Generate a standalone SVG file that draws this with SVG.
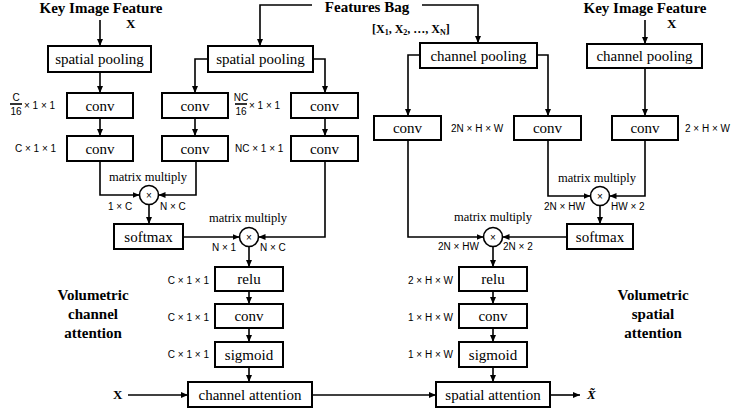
<svg xmlns="http://www.w3.org/2000/svg" width="732" height="413" viewBox="0 0 732 413">
<defs>
<marker id="ah" markerUnits="userSpaceOnUse" markerWidth="7" markerHeight="6" refX="7" refY="3" orient="auto">
<path d="M0,0 L7,3 L0,6 z" fill="#000"/>
</marker>
<style>
.box{fill:#fff;stroke:#000;stroke-width:2}
.bt{font-family:"Liberation Serif",serif;font-size:15px;text-anchor:middle;dominant-baseline:central}
.ttl{font-family:"Liberation Serif",serif;font-size:15px;font-weight:bold;text-anchor:middle}
.mm{font-family:"Liberation Serif",serif;font-size:12.5px;text-anchor:middle}
.lb{font-family:"Liberation Sans",sans-serif;font-size:10px}
.lbe{font-family:"Liberation Sans",sans-serif;font-size:10px;text-anchor:end}
.ln{fill:none;stroke:#000;stroke-width:1.6}
.ar{fill:none;stroke:#000;stroke-width:1.6;marker-end:url(#ah)}
.cir{fill:#fff;stroke:#000;stroke-width:1.6}
.x{font-family:"Liberation Sans",sans-serif;font-size:10px;text-anchor:middle;dominant-baseline:central}
</style>
</defs>
<rect width="732" height="413" fill="#fff"/>

<g id="titles">
<text class="ttl" x="101" y="13">Key Image Feature</text>
<text x="126" y="28" font-family="Liberation Serif,serif" font-size="13" font-weight="bold">X</text>
<text class="ttl" x="367" y="12">Features Bag</text>
<text x="372" y="33" font-family="Liberation Serif,serif" font-size="12" font-weight="bold">[X<tspan font-size="8" dy="2">1</tspan><tspan dy="-2">, X</tspan><tspan font-size="8" dy="2">2</tspan><tspan dy="-2">, …, X</tspan><tspan font-size="8" dy="2">N</tspan><tspan dy="-2">]</tspan></text>
<text class="ttl" x="645" y="13">Key Image Feature</text>
<text x="667" y="28" font-family="Liberation Serif,serif" font-size="13" font-weight="bold">X</text>
<text class="ttl" x="93" y="300">Volumetric</text>
<text class="ttl" x="93" y="319">channel</text>
<text class="ttl" x="93" y="338">attention</text>
<text class="ttl" x="653" y="300">Volumetric</text>
<text class="ttl" x="653" y="319">spatial</text>
<text class="ttl" x="653" y="338">attention</text>
</g>

<g id="connectors">
<path class="ar" d="M100,20 V46"/>
<path class="ar" d="M645,20 V44"/>
<path class="ar" d="M312,5 H260 V46"/>
<path class="ar" d="M422,5 H478 V43"/>
<path class="ar" d="M100,72 V93"/>
<path class="ar" d="M100,118 V136"/>
<path class="ar" d="M208,59 H195 V93"/>
<path class="ar" d="M313,59 H325 V93"/>
<path class="ar" d="M195,118 V136"/>
<path class="ar" d="M325,118 V136"/>
<path class="ar" d="M420,55 H408 V116"/>
<path class="ar" d="M537,55 H548 V116"/>
<path class="ar" d="M645,68 V116"/>
<path class="ar" d="M100,161 V195 H139.5"/>
<path class="ar" d="M196,161 V195 H158.5"/>
<path class="ar" d="M149,204.5 V224"/>
<path class="ar" d="M183,237 H239.5"/>
<path class="ar" d="M325,161 V237 H258.5"/>
<path class="ar" d="M249,246.5 V267"/>
<path class="ar" d="M548,140 V196 H590.5"/>
<path class="ar" d="M645,140 V196 H609.5"/>
<path class="ar" d="M600,205.5 V224"/>
<path class="ar" d="M408,140 V237 H483.5"/>
<path class="ar" d="M567,237 H502.5"/>
<path class="ar" d="M493,246.5 V267"/>
<path class="ar" d="M249,291 V304"/>
<path class="ar" d="M249,328 V342"/>
<path class="ar" d="M249,367 V382"/>
<path class="ar" d="M493,291 V304"/>
<path class="ar" d="M493,328 V342"/>
<path class="ar" d="M493,367 V382"/>
<path class="ar" d="M128,395 H188"/>
<path class="ar" d="M312,395 H436"/>
<path class="ar" d="M550,395 H580"/>
</g>

<g id="sp1"><rect class="box" x="48" y="46" width="103" height="26"/><text class="bt" x="99.5" y="59">spatial pooling</text></g>
<g id="sp2"><rect class="box" x="208" y="46" width="105" height="26"/><text class="bt" x="260.5" y="59">spatial pooling</text></g>
<g id="cp1"><rect class="box" x="420" y="43" width="117" height="25"/><text class="bt" x="478.5" y="55.5">channel pooling</text></g>
<g id="cp2"><rect class="box" x="587" y="44" width="115" height="24"/><text class="bt" x="644.5" y="56">channel pooling</text></g>

<g id="conv1a"><rect class="box" x="67" y="93" width="66" height="25"/><text class="bt" x="100" y="105.5">conv</text></g>
<g id="conv1b"><rect class="box" x="67" y="136" width="66" height="25"/><text class="bt" x="100" y="148.5">conv</text></g>
<g id="conv2a"><rect class="box" x="162" y="93" width="66" height="25"/><text class="bt" x="195" y="105.5">conv</text></g>
<g id="conv2b"><rect class="box" x="162" y="136" width="66" height="25"/><text class="bt" x="195" y="148.5">conv</text></g>
<g id="conv3a"><rect class="box" x="291" y="93" width="67" height="25"/><text class="bt" x="324.5" y="105.5">conv</text></g>
<g id="conv3b"><rect class="box" x="291" y="136" width="67" height="25"/><text class="bt" x="324.5" y="148.5">conv</text></g>
<g id="conv4"><rect class="box" x="374" y="116" width="67" height="24"/><text class="bt" x="407.5" y="128">conv</text></g>
<g id="conv5"><rect class="box" x="514" y="116" width="67" height="24"/><text class="bt" x="547.5" y="128">conv</text></g>
<g id="conv6"><rect class="box" x="612" y="116" width="66" height="24"/><text class="bt" x="645" y="128">conv</text></g>

<g id="mul1"><circle class="cir" cx="149" cy="195" r="9.5"/><text class="x" x="149" y="195">×</text></g>
<g id="mul2"><circle class="cir" cx="249" cy="237" r="9.5"/><text class="x" x="249" y="237">×</text></g>
<g id="mul3"><circle class="cir" cx="600" cy="196" r="9.5"/><text class="x" x="600" y="196">×</text></g>
<g id="mul4"><circle class="cir" cx="493" cy="237" r="9.5"/><text class="x" x="493" y="237">×</text></g>

<g id="sm1"><rect class="box" x="114" y="224" width="69" height="25"/><text class="bt" x="148.5" y="236.5">softmax</text></g>
<g id="sm2"><rect class="box" x="567" y="224" width="66" height="25"/><text class="bt" x="600" y="236.5">softmax</text></g>

<g id="relu1"><rect class="box" x="215" y="267" width="68" height="24"/><text class="bt" x="249" y="279">relu</text></g>
<g id="conv7"><rect class="box" x="215" y="304" width="68" height="24"/><text class="bt" x="249" y="316">conv</text></g>
<g id="sig1"><rect class="box" x="215" y="342" width="68" height="25"/><text class="bt" x="249" y="354.5">sigmoid</text></g>
<g id="relu2"><rect class="box" x="459" y="267" width="68" height="24"/><text class="bt" x="493" y="279">relu</text></g>
<g id="conv8"><rect class="box" x="459" y="304" width="68" height="24"/><text class="bt" x="493" y="316">conv</text></g>
<g id="sig2"><rect class="box" x="459" y="342" width="68" height="25"/><text class="bt" x="493" y="354.5">sigmoid</text></g>

<g id="ca"><rect class="box" x="188" y="382" width="124" height="25"/><text class="bt" x="250" y="394.5">channel attention</text></g>
<g id="sa"><rect class="box" x="436" y="382" width="114" height="25"/><text class="bt" x="493" y="394.5">spatial attention</text></g>

<g id="labels">
<text class="mm" x="148" y="181">matrix multiply</text>
<text class="mm" x="248" y="222">matrix multiply</text>
<text class="mm" x="597" y="182">matrix multiply</text>
<text class="mm" x="493" y="221">matrix multiply</text>
<text class="lb" x="108" y="210">1 × C</text>
<text class="lb" x="160" y="210">N × C</text>
<text class="lb" x="212" y="251">N × 1</text>
<text class="lb" x="260" y="251">N × C</text>
<text class="lb" x="544" y="210">2N × HW</text>
<text class="lb" x="611" y="210">HW × 2</text>
<text class="lb" x="438" y="250">2N × HW</text>
<text class="lb" x="503" y="250">2N × 2</text>
<text class="lb" x="16" y="101" text-anchor="middle">C</text>
<path class="ln" d="M10,104 H22" stroke-width="0.8"/>
<text class="lb" x="16" y="115" text-anchor="middle">16</text>
<text class="lb" x="24" y="109">× 1 × 1</text>
<text class="lb" x="241" y="101" text-anchor="middle">NC</text>
<path class="ln" d="M235,104 H247" stroke-width="0.8"/>
<text class="lb" x="241" y="115" text-anchor="middle">16</text>
<text class="lb" x="249" y="109">× 1 × 1</text>
<text class="lb" x="15" y="152">C × 1 × 1</text>
<text class="lb" x="235" y="152">NC × 1 × 1</text>
<text class="lb" x="451" y="132">2N × H × W</text>
<text class="lb" x="685" y="132">2 × H × W</text>
<text class="lbe" x="209" y="284">C × 1 × 1</text>
<text class="lbe" x="209" y="321">C × 1 × 1</text>
<text class="lbe" x="209" y="358">C × 1 × 1</text>
<text class="lbe" x="453" y="284">2 × H × W</text>
<text class="lbe" x="453" y="321">1 × H × W</text>
<text class="lbe" x="453" y="358">1 × H × W</text>
<text x="113" y="399" font-family="Liberation Serif,serif" font-size="13" font-weight="bold">X</text>
<text x="587" y="399" font-family="Liberation Serif,serif" font-size="13" font-weight="bold" font-style="italic">X̃</text>
</g>
</svg>
